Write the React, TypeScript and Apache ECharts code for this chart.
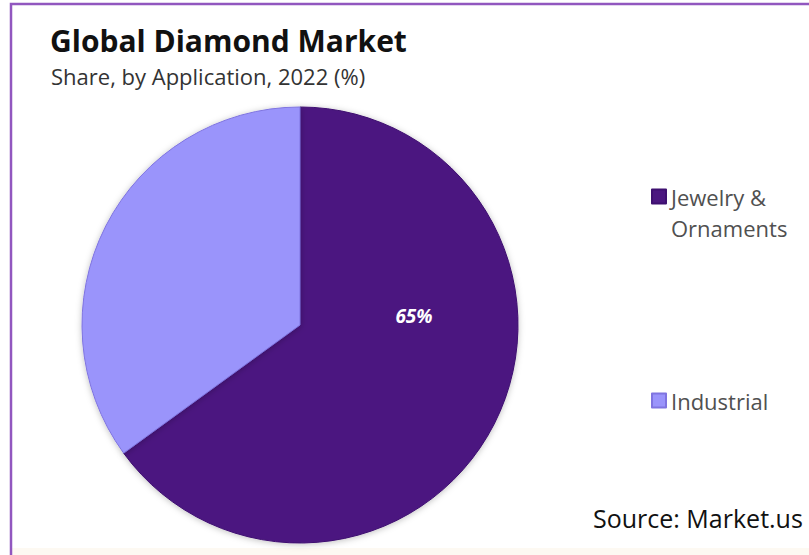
import React, { useEffect, useRef } from "react";
import * as echarts from "echarts";

const titleText = "Global Diamond Market";
const subtitleText = "Share, by Application, 2022 (%)";
const sourceText = "Source: Market.us";
const categories = ["Jewelry & Ornaments", "Industrial"];
const legendLabels = ["\nJewelry &\nOrnaments", "Industrial"];
const shares = [65, 35];
const colors = ["#4b1780", "#9a94fb"];
const borderColors = ["#3e1070", "#7f74e0"];

export default function App() {
  const ref = useRef<HTMLDivElement>(null);
  useEffect(() => {
    if (!ref.current) return;
    const chart = echarts.init(ref.current, null, { renderer: "svg" });
    const legendText = {
      fontFamily: "Open Sans",
      fontSize: 22,
      color: "#505050",
      lineHeight: 31,
    };
    chart.setOption({
      animation: false,
      backgroundColor: "#ffffff",
      title: [
        {
          text: titleText,
          left: 50,
          top: 24.5,
          padding: 0,
          textStyle: { fontFamily: "Open Sans", fontWeight: "bold", fontSize: 30, lineHeight: 32, color: "#111111" },
        },
        {
          text: subtitleText,
          left: 51,
          top: 63.5,
          padding: 0,
          textStyle: { fontFamily: "Open Sans", fontWeight: "normal", fontSize: 22, lineHeight: 24, color: "#333333" },
        },
        {
          text: sourceText,
          left: 593,
          top: 505,
          padding: 0,
          textStyle: { fontFamily: "Open Sans", fontWeight: "normal", fontSize: 25, color: "#111111" },
        },
      ],
      legend: [
        {
          data: [categories[0]],
          orient: "vertical",
          left: 651,
          top: 150,
          padding: 0,
          itemWidth: 14,
          itemHeight: 14,
          icon: "rect",
          formatter: () => legendLabels[0],
          textStyle: legendText,
          selectedMode: false,
        },
        {
          data: [categories[1]],
          orient: "vertical",
          left: 651,
          top: 385,
          padding: 0,
          itemWidth: 14,
          itemHeight: 14,
          icon: "rect",
          formatter: () => legendLabels[1],
          textStyle: legendText,
          selectedMode: false,
        },
      ],
      graphic: [
        {
          type: "rect",
          shape: { x: 11, y: 4, width: 820, height: 580 },
          style: { fill: "none", stroke: "#9157bf", lineWidth: 2.5 },
          z: 100,
        },
        {
          type: "rect",
          shape: { x: 12, y: 548, width: 800, height: 10 },
          style: { fill: "#fdf9f2" },
          z: -1,
        },
      ],
      series: [
        {
          type: "pie",
          center: [300, 325],
          radius: 218,
          startAngle: 90,
          clockwise: true,
          itemStyle: { shadowBlur: 6, shadowColor: "rgba(0,0,0,0.25)", shadowOffsetY: 1 },
          emphasis: { disabled: true },
          labelLine: { show: false },
          data: categories.map((name, i) => ({
            name,
            value: shares[i],
            itemStyle: { color: colors[i], borderColor: borderColors[i], borderWidth: 1 },
            label: {
              show: i === 0,
              position: "inside",
              formatter: "{c}%",
              color: "#ffffff",
              fontFamily: "Open Sans",
              fontStyle: "italic",
              fontWeight: "bold",
              fontSize: 19,
            },
          })),
          labelLayout: (p: any) => (p.dataIndex === 0 ? { x: 414, y: 316, align: "center", verticalAlign: "middle" } : {}),
        },
      ],
    });
    return () => chart.dispose();
  }, []);
  return <div ref={ref} style={{ position: "absolute", left: 0, top: 0, width: 809, height: 555 }} />;
}
